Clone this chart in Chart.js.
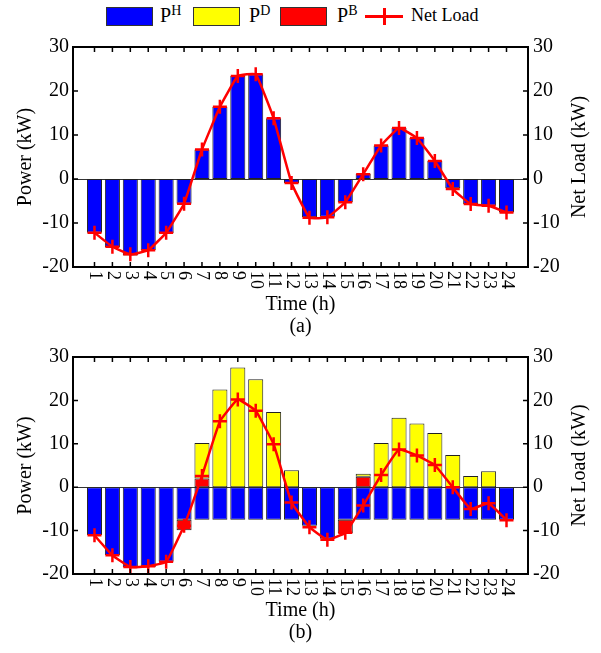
<!DOCTYPE html>
<html lang="en">
<head>
<meta charset="UTF-8">
<title>Power and Net Load</title>
<script src="https://cdn.jsdelivr.net/npm/chart.js"></script>
<style>
  body { margin: 0; background: #fff; font-family: 'Liberation Serif', 'Times New Roman', serif; }
  #page { position: relative; width: 601px; height: 653px; overflow: hidden; }
  .box { position: absolute; top: 7px; width: 47px; height: 19px; border: 1px solid #333; box-sizing: border-box; }
  .lab { position: absolute; top: 2px; font-size: 20px; line-height: 26px; color: #000; white-space: nowrap; }
  .lab sup { font-size: 14px; vertical-align: 7px; line-height: 0; }
  .seg { position: absolute; background: #f00; }
  canvas { position: absolute; left: 0; }
</style>
</head>
<body>
<div id="page">
  <div class="box" style="left:106px;background:#0000ff"></div>
  <div class="lab" style="left:160px">P<sup>H</sup></div>
  <div class="box" style="left:193px;background:#ffff00"></div>
  <div class="lab" style="left:249px">P<sup>D</sup></div>
  <div class="box" style="left:280px;background:#ff0000"></div>
  <div class="lab" style="left:337px">P<sup>B</sup></div>
  <div class="seg" style="left:365px;top:15px;width:38px;height:3px"></div>
  <div class="seg" style="left:383px;top:8px;width:3px;height:17px"></div>
  <div class="lab" style="left:411px;font-size:18px">Net Load</div>

  <canvas id="chartA" width="601" height="310" style="top:30px"></canvas>
  <canvas id="chartB" width="601" height="313" style="top:340px"></canvas>
</div>

<script>
  const hours = [1, 2, 3, 4, 5, 6, 7, 8, 9, 10, 11, 12, 13, 14, 15, 16, 17, 18, 19, 20, 21, 22, 23, 24];
  const yTicks = [-20, -10, 0, 10, 20, 30];

  // panel (a)
  const phA  = [-12.2, -15.5, -17.4, -16.2, -12.3, -5.6, 6.7, 16.4, 23.4, 23.8, 13.8, -0.9,
                -8.7, -8.6, -5.3, 1.2, 7.6, 11.6, 9.3, 4.1, -2.1, -5.7, -6.1, -7.6];
  const netA = [-12.2, -15.4, -17.1, -16.2, -12.2, -5.6, 6.7, 16.4, 23.4, 23.8, 13.8, -0.9,
                -8.8, -8.7, -5.3, 1.1, 7.6, 11.6, 9.3, 4.1, -2.3, -5.7, -6.1, -7.6];

  // panel (b)
  const phB  = [-11.0, -15.6, -18.4, -18.4, -17.2, -7.5, -7.5, -7.5, -7.5, -7.5, -7.5, -7.5,
                -8.9, -11.9, -7.5, -7.5, -7.5, -7.5, -7.5, -7.5, -7.5, -7.5, -7.5, -7.5];
  const pdB  = [0, 0, 0, 0, 0, 0, 8.2, 22.5, 27.6, 24.9, 17.3, 3.9,
                0, 0, 0, 0.7, 10.2, 16.0, 14.7, 12.5, 7.4, 2.6, 3.7, 0];
  const pbB  = [0, 0, 0, 0, 0, -2.4, 2.0, 0, 0, 0, 0, 0,
                0, 0, -3.1, 2.4, 0, 0, 0, 0, 0, 0, 0, 0];
  const netB = [-11.1, -15.7, -18.4, -18.2, -17.2, -8.9, 2.6, 15.2, 20.2, 17.6, 9.9, -3.5,
                -9.2, -12.1, -10.5, -4.2, 2.8, 8.7, 7.3, 5.1, 0.0, -5.0, -3.7, -7.6];

  const serif = "'Liberation Serif', 'Times New Roman', serif";

  // frame, inward ticks, zero line, rotated hour labels and right title
  const framePlugin = {
    id: 'frame',
    beforeDatasetsDraw(chart) {
      const { ctx, chartArea: a, scales } = chart;
      const y0 = Math.round(scales.y.getPixelForValue(0)) + 0.5;
      ctx.save();
      ctx.strokeStyle = '#333';
      ctx.lineWidth = 1;
      ctx.beginPath();
      ctx.moveTo(a.left, y0);
      ctx.lineTo(a.right, y0);
      ctx.stroke();
      ctx.restore();
    },
    afterDraw(chart) {
      const { ctx, chartArea: a, scales } = chart;
      ctx.save();
      ctx.strokeStyle = '#000';
      ctx.lineWidth = 2;
      ctx.strokeRect(a.left, a.top, a.right - a.left, a.bottom - a.top);

      ctx.lineWidth = 1.5;
      ctx.beginPath();
      hours.forEach(h => {
        const x = scales.x.getPixelForValue(h);
        ctx.moveTo(x, a.bottom); ctx.lineTo(x, a.bottom - 5);
        ctx.moveTo(x, a.top); ctx.lineTo(x, a.top + 5);
      });
      yTicks.forEach(v => {
        const y = scales.y.getPixelForValue(v);
        ctx.moveTo(a.left, y); ctx.lineTo(a.left + 5, y);
        ctx.moveTo(a.right, y); ctx.lineTo(a.right - 5, y);
      });
      ctx.stroke();
      ctx.restore();

      // hour labels, turned a quarter turn clockwise (read top to bottom)
      hours.forEach(h => {
        const x = scales.x.getPixelForValue(h);
        ctx.save();
        ctx.setTransform(0, 1, -1, 0, x, a.bottom + 4);
        ctx.fillStyle = '#000';
        ctx.font = '18px ' + serif;
        ctx.textAlign = 'left';
        ctx.textBaseline = 'middle';
        ctx.fillText(String(h), 0, 0);
        ctx.restore();
      });

      ctx.save();
      ctx.setTransform(0, -1, 1, 0, 580, (a.top + a.bottom) / 2);
      ctx.fillStyle = '#000';
      ctx.font = '20px ' + serif;
      ctx.textAlign = 'center';
      ctx.textBaseline = 'middle';
      ctx.fillText('Net Load (kW)', 0, 0);
      ctx.restore();
    }
  };

  const barStyle = { borderColor: '#222', borderWidth: 1, borderSkipped: false,
                     barPercentage: 0.84, categoryPercentage: 1, yAxisID: 'y' };

  const netLine = (data) => ({
    type: 'line', label: 'Net Load', data, yAxisID: 'y1',
    borderColor: '#ff0000', borderWidth: 2.5, tension: 0.1,
    pointStyle: 'cross', pointRadius: 7, pointBorderWidth: 2.5,
    pointBorderColor: '#ff0000', fill: false
  });

  const makeOptions = (sub, axisHeight, padTop, titlePad) => ({
    responsive: false,
    animation: false,
    devicePixelRatio: 1,
    layout: { padding: { top: padTop, bottom: 0, left: 0, right: 0 } },
    plugins: { legend: { display: false }, tooltip: { enabled: false } },
    scales: {
      x: {
        type: 'linear', min: -0.2, max: 25.2, stacked: true, offset: false,
        grid: { display: false, drawTicks: false }, border: { display: false },
        ticks: { display: false },
        title: { display: true, text: ['Time (h)', sub], color: '#000',
                 font: { family: serif, size: 20, lineHeight: 1.1 },
                 padding: { top: 0, bottom: titlePad } },
        afterFit: s => { s.height = axisHeight; }
      },
      y: {
        position: 'left', min: -20, max: 30, stacked: true,
        grid: { display: false, drawTicks: false }, border: { display: false },
        ticks: { stepSize: 10, color: '#000', padding: 4, font: { family: serif, size: 20 } },
        title: { display: true, text: 'Power (kW)', color: '#000',
                 font: { family: serif, size: 20 }, padding: { top: 14, bottom: 0 } },
        afterFit: s => { s.width = 73; }
      },
      y1: {
        position: 'right', min: -20, max: 30,
        grid: { display: false, drawTicks: false }, border: { display: false },
        ticks: { stepSize: 10, color: '#000', padding: 5, font: { family: serif, size: 20 } },
        afterFit: s => { s.width = 73; }
      }
    }
  });

  new Chart(document.getElementById('chartA'), {
    type: 'bar',
    data: {
      labels: hours,
      datasets: [
        netLine(netA),
        { label: 'PH', data: phA, backgroundColor: '#0000ff', ...barStyle }
      ]
    },
    options: makeOptions('(a)', 73, 15, 2),
    plugins: [framePlugin]
  });

  new Chart(document.getElementById('chartB'), {
    type: 'bar',
    data: {
      labels: hours,
      datasets: [
        netLine(netB),
        { label: 'PH', data: phB, backgroundColor: '#0000ff', ...barStyle },
        { label: 'PB', data: pbB, backgroundColor: '#ff0000', ...barStyle },
        { label: 'PD', data: pdB, backgroundColor: '#ffff00', ...barStyle }
      ]
    },
    options: makeOptions('(b)', 79, 10, 9),
    plugins: [framePlugin]
  });
</script>
</body>
</html>
